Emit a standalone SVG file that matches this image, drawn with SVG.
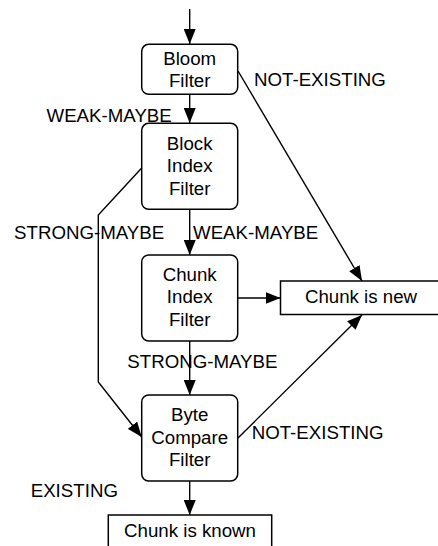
<svg xmlns="http://www.w3.org/2000/svg" width="438" height="546" viewBox="0 0 438 546">
<style>
text{font-family:"Liberation Sans",Arial,Helvetica,sans-serif;font-size:18.7px;fill:#000}
.n{text-anchor:middle}
.box{fill:#fff;stroke:#000;stroke-width:1.5}
.c{fill:none;stroke:#000;stroke-width:1.4}
</style>
<defs>
<marker id="ah" markerUnits="userSpaceOnUse" markerWidth="16" markerHeight="12" refX="15" refY="6" orient="auto">
<path d="M0,0 L15,6 L0,12 z" fill="#000"/>
</marker>
</defs>
<g id="connectors">
<line class="c" x1="189.7" y1="9" x2="189.7" y2="44" marker-end="url(#ah)"/>
<line class="c" x1="189.7" y1="94.5" x2="189.7" y2="123" marker-end="url(#ah)"/>
<line class="c" x1="189.7" y1="209.5" x2="189.7" y2="255" marker-end="url(#ah)"/>
<line class="c" x1="189.7" y1="341" x2="189.7" y2="395" marker-end="url(#ah)"/>
<line class="c" x1="189.7" y1="481" x2="189.7" y2="515" marker-end="url(#ah)"/>
<line class="c" x1="238" y1="71" x2="362" y2="281" marker-end="url(#ah)"/>
<line class="c" x1="238" y1="298" x2="280.5" y2="298" marker-end="url(#ah)"/>
<line class="c" x1="238" y1="438" x2="362" y2="315" marker-end="url(#ah)"/>
<polyline class="c" points="141.7,168 98.3,215 98.3,382 141.7,437" marker-end="url(#ah)"/>
<text x="254" y="85.5">NOT-EXISTING</text>
<text x="46.5" y="122">WEAK-MAYBE</text>
<text x="14" y="239">STRONG-MAYBE</text>
<text x="193" y="239">WEAK-MAYBE</text>
<text x="127.3" y="367.7">STRONG-MAYBE</text>
<text x="251.7" y="439.3">NOT-EXISTING</text>
<text x="30.7" y="496.7">EXISTING</text>
</g>
<g id="bloom">
<rect class="box" x="141.7" y="44.3" width="96" height="50" rx="7"/>
<text class="n" x="189.7" y="64.5">Bloom</text>
<text class="n" x="189.7" y="87">Filter</text>
</g>
<g id="block">
<rect class="box" x="141.7" y="123.3" width="96" height="86" rx="7"/>
<text class="n" x="189.7" y="150">Block</text>
<text class="n" x="189.7" y="172.4">Index</text>
<text class="n" x="189.7" y="195">Filter</text>
</g>
<g id="chunkindex">
<rect class="box" x="141.7" y="255" width="96" height="86" rx="7"/>
<text class="n" x="189.7" y="280.7">Chunk</text>
<text class="n" x="189.7" y="303.3">Index</text>
<text class="n" x="189.7" y="325.7">Filter</text>
</g>
<g id="bytecompare">
<rect class="box" x="141.7" y="395" width="96" height="86" rx="7"/>
<text class="n" x="189.7" y="421.3">Byte</text>
<text class="n" x="189.7" y="443.5">Compare</text>
<text class="n" x="189.7" y="466">Filter</text>
</g>
<g id="new">
<rect class="box" x="280.5" y="281" width="161" height="33.5"/>
<text class="n" x="361" y="302.7">Chunk is new</text>
</g>
<g id="known">
<rect class="box" x="108.3" y="515" width="163.4" height="34"/>
<text class="n" x="190" y="536.7">Chunk is known</text>
</g>
</svg>
